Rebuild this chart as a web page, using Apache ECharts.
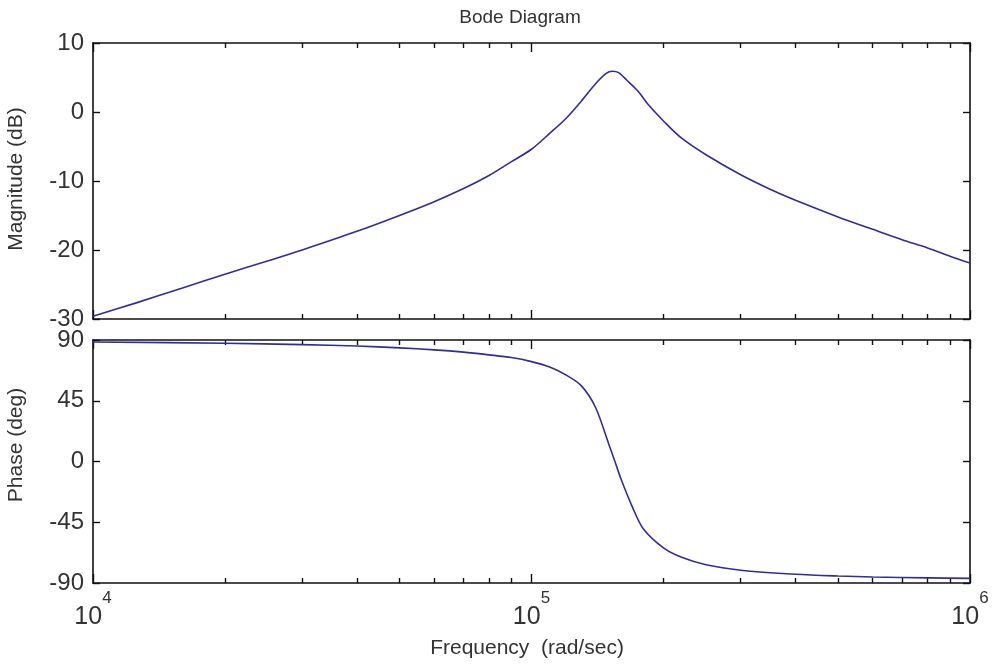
<!DOCTYPE html>
<html>
<head>
<meta charset="utf-8">
<script src="https://cdn.jsdelivr.net/npm/echarts@6/dist/echarts.min.js"></script>
<style>
html,body{margin:0;padding:0;background:#fff;}
#chart{width:993px;height:664px;}
</style>
</head>
<body>
<div id="chart"></div>
<script>
// ---- data ----
const magFreq = [1e4,1.25e4,1.6e4,2e4,2.5e4,3e4,4e4,5e4,6e4,7e4,8e4,9e4,1e5,1.1e5,1.2e5,1.3e5,1.4e5,1.48e5,1.53e5,1.58e5,1.65e5,1.75e5,1.85e5,2e5,2.2e5,2.5e5,3e5,3.5e5,4e5,5e5,6e5,7e5,8e5,9e5,1e6];
const magDb   = [-29.6,-27.7,-25.5,-23.5,-21.6,-20.0,-17.3,-15.0,-13.0,-11.1,-9.2,-7.2,-5.4,-3.1,-0.9,1.6,4.1,5.6,5.9,5.7,4.6,3.0,1.0,-1.3,-3.8,-6.2,-9.1,-11.2,-12.8,-15.2,-17.0,-18.5,-19.7,-20.9,-21.9];
const phFreq  = [1e4,2e4,3e4,4e4,5e4,6e4,7e4,8e4,9e4,1e5,1.1e5,1.2e5,1.3e5,1.4e5,1.5e5,1.55e5,1.6e5,1.7e5,1.8e5,2e5,2.2e5,2.5e5,3e5,4e5,5e5,6e5,8e5,1e6];
const phDeg   = [88.5,87.6,86.6,85.5,84.2,82.7,81,79,77,74,70,64,56,40,13,0,-13,-34,-50,-64,-71,-76.5,-80.5,-83.5,-84.8,-85.5,-86.2,-86.6];
const majorTicks = [1e4,1e5,1e6];
const minorTicks = [2e4,3e4,4e4,5e4,6e4,7e4,8e4,9e4,2e5,3e5,4e5,5e5,6e5,7e5,8e5,9e5];
const magTicks = [-30,-20,-10,0,10];
const phTicks = [-90,-45,0,45,90];
const titleText = 'Bode Diagram';
const magName = 'Magnitude (dB)';
const phName = 'Phase (deg)';
const freqName = 'Frequency  (rad/sec)';

const chart = echarts.init(document.getElementById('chart'), null, {renderer:'canvas'});
const FONT = 'Liberation Sans, Arial, sans-serif';
const TXT = '#333';
const LINE = '#302c9e';

function xAx(grid, pos, minor, labels) {
  return {
    type:'log', logBase:10, gridIndex:grid, position:pos, min:1e4, max:1e6,
    axisLine:{show:!minor, onZero:false, lineStyle:{color:'#111', width:1.6}},
    axisTick:{show:true, inside:true, length: minor?5:9, customValues: minor?minorTicks:majorTicks, lineStyle:{color:'#111', width:1.4}},
    minorTick:{show:false},
    splitLine:{show:false},
    axisLabel:{show:!!labels, customValues: majorTicks, margin:7, color:TXT, fontFamily:FONT,
      formatter: v => '{b|10}{s|' + Math.round(Math.log10(v)) + '}',
      rich:{ b:{fontSize:25, fontFamily:FONT, color:TXT, lineHeight:40, verticalAlign:'bottom'},
             s:{fontSize:17, fontFamily:FONT, color:TXT, lineHeight:40, verticalAlign:'top'} } }
  };
}
function yAx(grid, pos, ticks, labels) {
  return {
    type:'value', gridIndex:grid, position:pos, min:ticks[0], max:ticks[ticks.length-1],
    interval: ticks[1]-ticks[0],
    axisLine:{show:true, onZero:false, lineStyle:{color:'#111', width:1.6}},
    axisTick:{show:true, inside:true, length:7, lineStyle:{color:'#111', width:1.4}},
    splitLine:{show:false},
    axisLabel:{show:labels, margin:9, fontSize:24, fontFamily:FONT, color:TXT}
  };
}

const option = {
  backgroundColor:'#fff',
  animation:false,
  grid:[
    {left:93, top:43, width:877, height:276},
    {left:93, top:340, width:877, height:243}
  ],
  xAxis:[
    xAx(0,'bottom',false,false), xAx(0,'bottom',true,false),
    xAx(0,'top',false,false), xAx(0,'top',true,false),
    xAx(1,'bottom',false,true), xAx(1,'bottom',true,false),
    xAx(1,'top',false,false), xAx(1,'top',true,false)
  ],
  yAxis:[
    yAx(0,'left',magTicks,true), yAx(0,'right',magTicks,false),
    yAx(1,'left',phTicks,true), yAx(1,'right',phTicks,false)
  ],
  graphic:[
    {type:'text', x:520, y:8, style:{text:titleText, fontSize:19, fontFamily:FONT, fill:TXT, align:'center', verticalAlign:'top'}},
    {type:'text', x:527, y:638, style:{text:freqName, fontSize:21, fontFamily:FONT, fill:TXT, align:'center', verticalAlign:'top'}},
    {type:'text', x:6, y:179, rotation:Math.PI/2, style:{text:magName, fontSize:21, fontFamily:FONT, fill:TXT, align:'center', verticalAlign:'top'}},
    {type:'text', x:6, y:445, rotation:Math.PI/2, style:{text:phName, fontSize:21, fontFamily:FONT, fill:TXT, align:'center', verticalAlign:'top'}}
  ],
  series:[
    {type:'line', xAxisIndex:0, yAxisIndex:0, showSymbol:false, smooth:0.3,
     lineStyle:{color:LINE, width:1.6}, data: magFreq.map((f,i)=>[f, magDb[i]])},
    {type:'line', xAxisIndex:4, yAxisIndex:2, showSymbol:false, smooth:0.3,
     lineStyle:{color:LINE, width:1.6}, data: phFreq.map((f,i)=>[f, phDeg[i]])}
  ]
};
chart.setOption(option);
</script>
</body>
</html>
